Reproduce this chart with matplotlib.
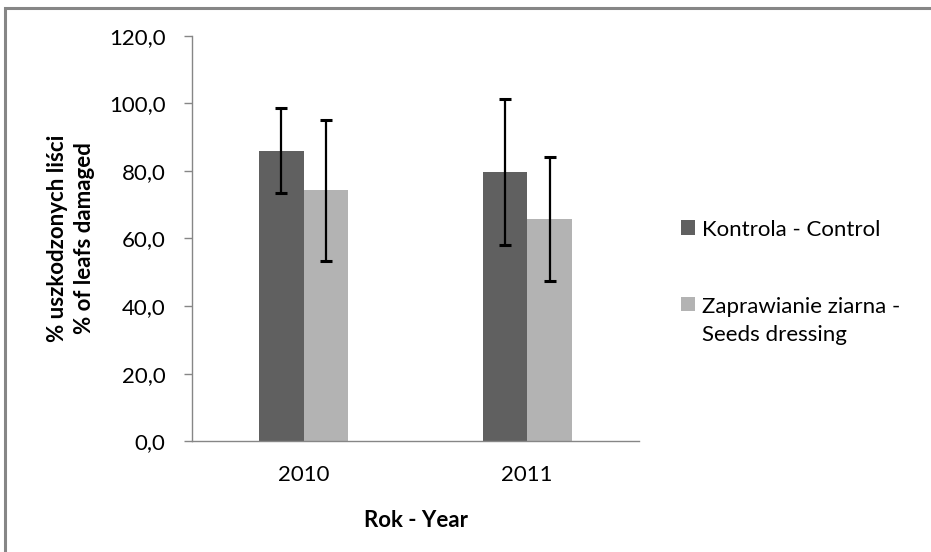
import matplotlib
matplotlib.use("Agg")
import matplotlib.pyplot as plt
import numpy as np
from matplotlib.patches import Rectangle
from matplotlib.ticker import FuncFormatter

plt.rcParams['font.family'] = ['Lato', 'DejaVu Sans']

years = ["2010", "2011"]
series_names = ["Kontrola - Control", "Zaprawianie ziarna -\nSeeds dressing"]
control = [86.0, 79.7]
control_err = [12.6, 21.7]
dressing = [74.3, 65.7]
dressing_err = [20.9, 18.4]
colors = ["#606060", "#b3b3b3"]

W, H = 931, 552
fig = plt.figure(figsize=(W / 100, H / 100), dpi=100)
fig.patch.set_facecolor("white")

# outer chart frame (top and left edges visible)
fig.patches.append(Rectangle((4.5 / W, -0.1), 1.2, (H - 8) / H + 0.1,
                             transform=fig.transFigure, fill=False,
                             edgecolor="#868686", linewidth=2.2))

ax = fig.add_axes([192 / W, (H - 441.3) / H, (639 - 192) / W, (441.3 - 35.7) / H])

x = np.arange(len(years))
bw = 0.2
err_kw = dict(ecolor="black", elinewidth=1.6, capsize=4.2, capthick=2.2)
ax.bar(x - bw / 2, control, bw, color=colors[0], yerr=control_err,
       error_kw=err_kw, label=series_names[0], zorder=2)
ax.bar(x + bw / 2, dressing, bw, color=colors[1], yerr=dressing_err,
       error_kw=err_kw, label=series_names[1], zorder=2)

ax.set_xlim(-0.5, 1.5)
ax.set_ylim(0, 120)
ax.set_yticks(np.arange(0, 121, 20))
ax.yaxis.set_major_formatter(FuncFormatter(lambda v, p: f"{v:.1f}".replace(".", ",")))
ax.set_xticks(x)
ax.set_xticklabels(years)

for s in ["top", "right"]:
    ax.spines[s].set_visible(False)
for s in ["left", "bottom"]:
    ax.spines[s].set_color("#868686")
    ax.spines[s].set_linewidth(1.0)
ax.tick_params(axis="y", length=6, width=1.0, color="#868686", labelsize=16, pad=13)
ax.tick_params(axis="x", length=0, labelsize=16, pad=17)

ax.set_xlabel("Rok - Year", fontsize=16, fontweight="bold", labelpad=18)
fig.text(71 / W, 1 - 238 / H, "% uszkodzonych liści\n% of leafs damaged",
         rotation=90, ha="center", va="center", fontsize=16, fontweight="bold",
         linespacing=1.38)

leg = ax.legend(loc="upper left", bbox_to_anchor=(670 / W, 1 - 209 / H),
                bbox_transform=fig.transFigure, frameon=False, fontsize=16,
                handlelength=0.64, handleheight=0.64, handletextpad=0.28,
                labelspacing=2.55, borderpad=0)
for t in leg.get_texts():
    t.set_linespacing(1.52)
# put each swatch beside the first line of its label
for col in leg._legend_handle_box.get_children():
    for entry in col.get_children():
        entry.align = "top"

fig.savefig("out.png", dpi=100, facecolor="white")
